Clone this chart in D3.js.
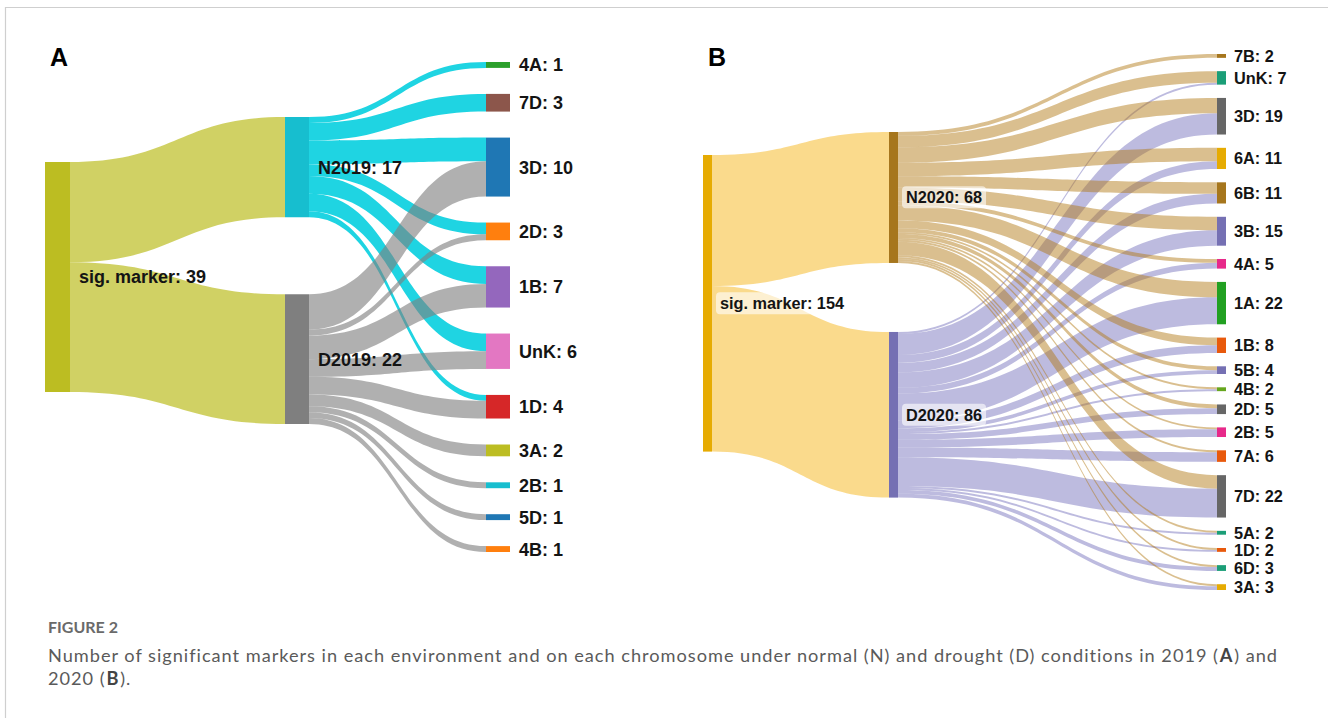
<!DOCTYPE html>
<html><head><meta charset="utf-8">
<script src="https://cdn.jsdelivr.net/npm/d3@7"></script>
<style>body{margin:0;background:#fff} svg{display:block}</style>
</head><body>
<svg id="c" width="1328" height="718"></svg>
<script>
// ---------------- DATA ----------------
// Panel A (2019)
const sourceA = "sig. marker";
const envA = ["N2019", "D2019"];
const chromA = ["4A", "7D", "3D", "2D", "1B", "UnK", "1D", "3A", "2B", "5D", "4B"];
const normalA = [1, 3, 4, 2, 3, 3, 1, 0, 0, 0, 0];   // N2019 -> chromosome
const droughtA = [0, 0, 6, 1, 4, 3, 3, 2, 1, 1, 1];  // D2019 -> chromosome

// Panel B (2020)
const sourceB = "sig. marker";
const envB = ["N2020", "D2020"];
const chromB = ["7B", "UnK", "3D", "6A", "6B", "3B", "4A", "1A", "1B", "5B", "4B", "2D", "2B", "7A", "7D", "5A", "1D", "6D", "3A"];
const normalB = [2, 6, 8, 7, 6, 7, 2, 8, 4, 2, 1, 2, 1, 1, 7, 1, 1, 1, 1];
const droughtB = [0, 1, 11, 4, 5, 8, 3, 14, 4, 2, 1, 3, 4, 5, 15, 1, 1, 2, 2];

// Caption
const captionTitle = "FIGURE 2";
const captionLine1 = ["Number of significant markers in each environment and on each chromosome under normal (N) and drought (D) conditions in 2019 (", "A", ") and"];
const captionLine2 = ["2020 (", "B", ")."];

// ---------------- STYLES ----------------
const styleA = {
  sourceColor: "#bcbd22", sourceLink: "rgba(188,189,34,0.7)",
  envColor: ["#17becf", "#7f7f7f"],
  envLink: ["rgba(0,206,222,0.88)", "rgba(127,127,127,0.62)"],
  chromColor: ["#2ca02c", "#8c564b", "#1f77b4", "#ff7f0e", "#9467bd", "#e377c2", "#d62728", "#bcbd22", "#17becf", "#1f77b4", "#ff7f0e"],
  linkOrder: [0, 1], box: false, font: 18, letter: "A"
};
const styleB = {
  sourceColor: "#e6ab02", sourceLink: "rgba(245,172,0,0.45)",
  envColor: ["#a6761d", "#7570b3"],
  envLink: ["rgba(176,120,16,0.47)", "rgba(123,120,192,0.5)"],
  chromColor: ["#a6761d", "#1b9e77", "#666666", "#e6ab02", "#a6761d", "#7570b3", "#e7298a", "#22a022", "#e8590c", "#7570b3", "#66a61e", "#666666", "#e7298a", "#e8590c", "#666666", "#1b9e77", "#e8590c", "#1b9e77", "#e6ab02"],
  linkOrder: [1, 0], box: true, font: 16.3, letter: "B"
};

// ---------------- LAYOUT CONFIG ----------------
const cfgA = { colX: [45, 285, 486], nodeW: [25, 24, 24], top: 62, bottom: 552, p: 26, midTop: 117, midPad: 77, leftTop: 162, letterX: 50, labelGap: 9 };
const cfgB = { colX: [703, 889, 1217], nodeW: [9, 9, 9], top: 54, bottom: 590, p: 13.3, midTop: 132, midPad: 69, leftTop: 155, letterX: 708, labelGap: 8 };

const svg = d3.select("#c");
const FONT = "'Liberation Sans', Arial, sans-serif";

function buildPanel(cfg, st, srcName, envs, chroms, nVals, dVals) {
  const envVals = [nVals, dVals];
  const envTotals = envVals.map(v => d3.sum(v));
  const chromTotals = chroms.map((c, i) => nVals[i] + dVals[i]);
  const total = d3.sum(envTotals);
  const n = chroms.length;
  const ky = (cfg.bottom - cfg.top - (n - 1) * cfg.p) / total;
  const hs = d3.scaleLinear().domain([0, total]).range([0, total * ky]);

  const nodes = [];
  const src = { name: srcName, col: 0, value: total, color: st.sourceColor, src: [], tgt: [] };
  src.y0 = cfg.leftTop; src.y1 = src.y0 + hs(total);
  nodes.push(src);
  let y = cfg.midTop;
  const envNodes = envs.map((e, i) => {
    const nd = { name: e, col: 1, value: envTotals[i], color: st.envColor[i], src: [], tgt: [], y0: y };
    nd.y1 = y + hs(envTotals[i]); y = nd.y1 + cfg.midPad;
    nodes.push(nd); return nd;
  });
  y = cfg.top;
  const chromNodes = chroms.map((c, i) => {
    const nd = { name: c, col: 2, value: chromTotals[i], color: st.chromColor[i], src: [], tgt: [], y0: y };
    nd.y1 = y + hs(chromTotals[i]); y = nd.y1 + cfg.p;
    nodes.push(nd); return nd;
  });
  nodes.forEach(nd => { nd.x0 = cfg.colX[nd.col]; nd.x1 = nd.x0 + cfg.nodeW[nd.col]; });

  const links = [];
  envNodes.forEach((e, i) => {
    const l = { source: src, target: e, value: envTotals[i], color: st.sourceLink, grp: -1 };
    links.push(l); src.src.push(l); e.tgt.push(l);
  });
  envNodes.forEach((e, i) => {
    chromNodes.forEach((c, j) => {
      const v = envVals[i][j];
      if (v > 0) {
        const l = { source: e, target: c, value: v, color: st.envLink[i], grp: i };
        links.push(l); e.src.push(l); c.tgt.push(l);
      }
    });
  });
  nodes.forEach(nd => {
    let sy = nd.y0;
    nd.src.slice().sort((a, b) => a.target.y0 - b.target.y0).forEach(l => { l.sy = sy; sy += hs(l.value); });
    let ty = nd.y0;
    nd.tgt.slice().sort((a, b) => a.source.y0 - b.source.y0).forEach(l => { l.ty = ty; ty += hs(l.value); });
  });
  links.forEach(l => { l.w = hs(l.value); });
  return { nodes, links };
}

function ribbon(l) {
  const xs = l.source.x1, xt = l.target.x0, xm = (xs + xt) / 2;
  const ys = l.sy, yt = l.ty, w = l.w;
  return `M${xs},${ys}C${xm},${ys} ${xm},${yt} ${xt},${yt}L${xt},${yt + w}C${xm},${yt + w} ${xm},${ys + w} ${xs},${ys + w}Z`;
}

function draw(cfg, st, layout) {
  const g = svg.append("g");
  const order = [-1].concat(st.linkOrder);
  order.forEach(grp => {
    g.append("g").selectAll("path").data(layout.links.filter(l => l.grp === grp)).join("path")
      .attr("d", ribbon).attr("fill", d => d.color);
  });
  g.append("g").selectAll("rect").data(layout.nodes).join("rect")
    .attr("x", d => d.x0).attr("y", d => d.y0)
    .attr("width", d => d.x1 - d.x0).attr("height", d => Math.max(1, d.y1 - d.y0))
    .attr("fill", d => d.color);
  const lg = g.append("g");
  layout.nodes.forEach(d => {
    const t = lg.append("text")
      .attr("x", d.x1 + cfg.labelGap).attr("y", (d.y0 + d.y1) / 2)
      .attr("dy", "0.36em")
      .attr("font-family", FONT).attr("font-size", st.font).attr("font-weight", "bold")
      .attr("fill", "#141414")
      .text(`${d.name}: ${d.value}`);
    if (st.box && d.col < 2) {
      const bb = t.node().getBBox();
      lg.insert("rect", () => t.node())
        .attr("x", bb.x - 4).attr("y", bb.y - 2).attr("width", bb.width + 8).attr("height", bb.height + 4)
        .attr("rx", 4).attr("fill", "rgba(255,255,255,0.6)");
    }
  });
  svg.append("text").attr("x", cfg.letterX).attr("y", 66)
    .attr("font-family", FONT).attr("font-size", 25).attr("font-weight", "bold").attr("fill", "#000")
    .text(st.letter);
}

draw(cfgA, styleA, buildPanel(cfgA, styleA, sourceA, envA, chromA, normalA, droughtA));
draw(cfgB, styleB, buildPanel(cfgB, styleB, sourceB, envB, chromB, normalB, droughtB));

// frame
svg.append("path").attr("d", "M5.5,718V7.5H1328").attr("fill", "none").attr("stroke", "#cfcfcf").attr("stroke-width", 1.2);

// caption
const CAP = "Lato, 'Open Sans', sans-serif";
const capFs = 18.2;
svg.append("text").attr("x", 48).attr("y", 633).attr("font-family", CAP).attr("font-size", 16)
  .attr("font-weight", "bold").attr("fill", "#6a6a6a").text(captionTitle);

// measure to fit line 1 into the figure column width via letter spacing
const joined1 = captionLine1.join("");
const probe = svg.append("text").attr("font-family", CAP).attr("font-size", capFs).text(joined1);
const ls = Math.max(0, (1228 - probe.node().getComputedTextLength()) / joined1.length);
probe.remove();

function captionLine(parts, yPos) {
  let x = 48;
  parts.forEach((p, i) => {
    const bold = i === 1;
    const t = svg.append("text").attr("x", x).attr("y", yPos)
      .attr("font-family", CAP).attr("font-size", capFs)
      .attr("letter-spacing", ls)
      .attr("font-weight", bold ? "bold" : "normal")
      .attr("fill", bold ? "#444" : "#5a5a5a").text(p);
    x += t.node().getComputedTextLength() + 0.8;
  });
}
captionLine(captionLine1, 662);
captionLine(captionLine2, 685);
</script>
</body></html>
